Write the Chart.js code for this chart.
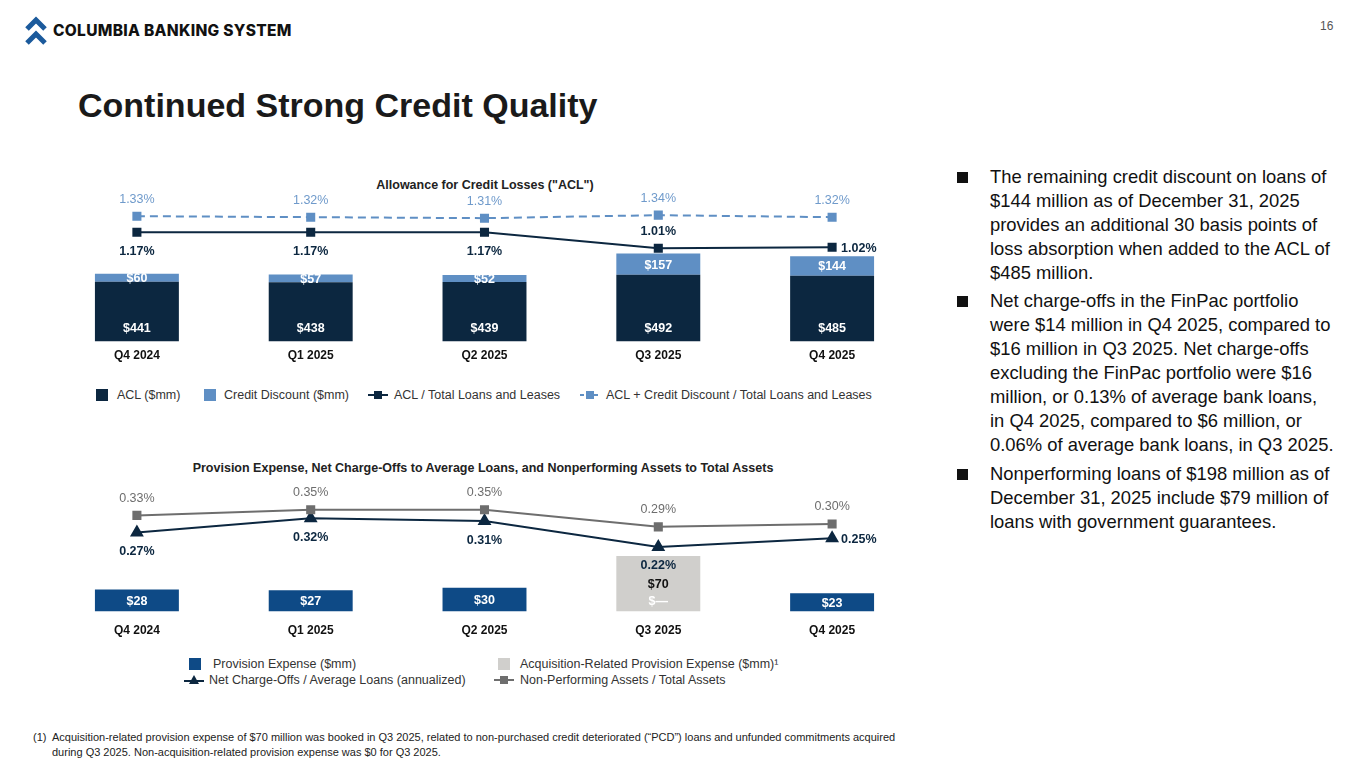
<!DOCTYPE html>
<html>
<head>
<meta charset="utf-8">
<script src="https://cdn.jsdelivr.net/npm/chart.js@4.4.0/dist/chart.umd.min.js"></script>
<style>
  body { margin: 0; width: 1365px; height: 768px; position: relative; background: #fff;
         font-family: "Liberation Sans", Arial, sans-serif; overflow: hidden; color: #1a1a1a; }
  .abs { position: absolute; white-space: nowrap; }
  .logo-text { left: 53px; top: 21px; font-family: Inter, sans-serif; font-weight: 800; font-size: 15.5px; letter-spacing: 0.3px; color: #111; }
  .page { left: 1320px; top: 19px; font-size: 12px; color: #555; }
  .title { left: 78px; top: 86px; font-size: 34px; font-weight: bold; color: #1a1a1a; }
  .ctitle { font-size: 12.5px; font-weight: bold; color: #222; transform: translateX(-50%); }
  .leg { font-size: 12.5px; color: #333; line-height: 14px; }
  .leg svg { position: absolute; }
  .bul { left: 957px; width: 11px; height: 11px; background: #111; }
  .para { left: 990px; font-size: 18.4px; line-height: 24px; color: #111; }
  .foot { font-size: 11px; color: #222; line-height: 15px; }
  #c1wrap { position: absolute; left: 50px; top: 170px; width: 869px; height: 200px; }
  #c2wrap { position: absolute; left: 50px; top: 480px; width: 869px; height: 170px; }
</style>
</head>
<body>
<svg class="abs" style="left:23px;top:14px" width="26" height="34" viewBox="0 0 26 34">
  <polyline points="4,15 13,6 22,15" fill="none" stroke="#1b5a9c" stroke-width="5" stroke-linejoin="miter"/>
  <polyline points="4,29 13,20 22,29" fill="none" stroke="#1b5a9c" stroke-width="5" stroke-linejoin="miter"/>
</svg>
<div class="abs logo-text">COLUMBIA BANKING SYSTEM</div>
<div class="abs page">16</div>
<div class="abs title">Continued Strong Credit Quality</div>

<div class="abs ctitle" style="left:485px;top:178px">Allowance for Credit Losses ("ACL")</div>
<div id="c1wrap"><canvas id="acl"></canvas></div>

<div class="abs leg" style="left:96px;top:388px">
  <svg style="left:0;top:1px" width="12" height="12"><rect width="12" height="12" fill="#0c2740"/></svg>
  <span style="position:absolute;left:21px">ACL ($mm)</span>
</div>
<div class="abs leg" style="left:204px;top:388px">
  <svg style="left:0;top:1px" width="12" height="12"><rect width="12" height="12" fill="#5f8fc4"/></svg>
  <span style="position:absolute;left:20px">Credit Discount ($mm)</span>
</div>
<div class="abs leg" style="left:368px;top:388px">
  <svg style="left:0;top:2px" width="20" height="10"><line x1="0" y1="5" x2="20" y2="5" stroke="#0c2740" stroke-width="2"/><rect x="6" y="1" width="8" height="8" fill="#0c2740"/></svg>
  <span style="position:absolute;left:26px">ACL / Total Loans and Leases</span>
</div>
<div class="abs leg" style="left:580px;top:388px">
  <svg style="left:0;top:2px" width="20" height="10"><line x1="0" y1="5" x2="20" y2="5" stroke="#5f8fc4" stroke-width="2" stroke-dasharray="4,3"/><rect x="6" y="1" width="8" height="8" fill="#5f8fc4"/></svg>
  <span style="position:absolute;left:26px">ACL + Credit Discount / Total Loans and Leases</span>
</div>

<div class="abs ctitle" style="left:483px;top:461px">Provision Expense, Net Charge-Offs to Average Loans, and Nonperforming Assets to Total Assets</div>
<div id="c2wrap"><canvas id="prov"></canvas></div>

<div class="abs leg" style="left:189px;top:657px">
  <svg style="left:0;top:1px" width="12" height="12"><rect width="12" height="12" fill="#0e4a86"/></svg>
  <span style="position:absolute;left:24px">Provision Expense ($mm)</span>
</div>
<div class="abs leg" style="left:498px;top:657px">
  <svg style="left:0;top:1px" width="12" height="12"><rect width="12" height="12" fill="#d0cfcc"/></svg>
  <span style="position:absolute;left:22px">Acquisition-Related Provision Expense ($mm)¹</span>
</div>
<div class="abs leg" style="left:184px;top:673px">
  <svg style="left:0;top:2px" width="20" height="10"><line x1="0" y1="6" x2="20" y2="6" stroke="#0c2740" stroke-width="2"/><polygon points="10,0 15,9 5,9" fill="#0c2740"/></svg>
  <span style="position:absolute;left:25px">Net Charge-Offs / Average Loans (annualized)</span>
</div>
<div class="abs leg" style="left:494px;top:673px">
  <svg style="left:0;top:2px" width="20" height="10"><line x1="0" y1="5" x2="20" y2="5" stroke="#6e6e6e" stroke-width="2"/><rect x="6" y="1" width="8" height="8" fill="#6e6e6e"/></svg>
  <span style="position:absolute;left:26px">Non-Performing Assets / Total Assets</span>
</div>

<div class="abs bul" style="top:172px"></div>
<div class="abs para" style="top:165px">The remaining credit discount on loans of<br>$144 million as of December 31, 2025<br>provides an additional 30 basis points of<br>loss absorption when added to the ACL of<br>$485 million.</div>
<div class="abs bul" style="top:296px"></div>
<div class="abs para" style="top:289px">Net charge-offs in the FinPac portfolio<br>were $14 million in Q4 2025, compared to<br>$16 million in Q3 2025. Net charge-offs<br>excluding the FinPac portfolio were $16<br>million, or 0.13% of average bank loans,<br>in Q4 2025, compared to $6 million, or<br>0.06% of average bank loans, in Q3 2025.</div>
<div class="abs bul" style="top:469px"></div>
<div class="abs para" style="top:462px">Nonperforming loans of $198 million as of<br>December 31, 2025 include $79 million of<br>loans with government guarantees.</div>

<div class="abs foot" style="left:33px;top:730px">(1)</div>
<div class="abs foot" style="left:52px;top:730px">Acquisition-related provision expense of $70 million was booked in Q3 2025, related to non-purchased credit deteriorated (“PCD”) loans and unfunded commitments acquired<br>during Q3 2025. Non-acquisition-related provision expense was $0 for Q3 2025.</div>

<script>
const quarters = ['Q4 2024', 'Q1 2025', 'Q2 2025', 'Q3 2025', 'Q4 2025'];

// top chart
const aclValues = [441, 438, 439, 492, 485];
const creditDiscount = [60, 57, 52, 157, 144];
const aclRatio = [1.17, 1.17, 1.17, 1.01, 1.02];
const aclDiscountRatio = [1.33, 1.32, 1.31, 1.34, 1.32];

// bottom chart
const provisionExpense = [28, 27, 30, 0, 23];
const acquisitionProvision = [null, null, null, 70, null];
const ncoRatio = [0.27, 0.32, 0.31, 0.22, 0.25];
const npaRatio = [0.33, 0.35, 0.35, 0.29, 0.30];

const NAVY = '#0c2740';
const LIGHT = '#5f8fc4';
const BLUE = '#0e4a86';
const GREY = '#d0cfcc';
const DGREY = '#6e6e6e';
const FONT = '"Liberation Sans", Arial, sans-serif';

Chart.defaults.font.family = FONT;

// draws the value labels (no datalabels plugin available offline)
const valueLabels = {
  id: 'valueLabels',
  afterDatasetsDraw(chart) {
    const ctx = chart.ctx;
    chart.data.datasets.forEach((ds, i) => {
      const lab = ds.lab;
      if (!lab) return;
      const meta = chart.getDatasetMeta(i);
      meta.data.forEach((el, j) => {
        const v = ds.data[j];
        if (v === null || v === undefined) return;
        let text = lab.fmt === '%' ? v.toFixed(2) + '%' : (v === 0 ? '$—' : '$' + v);
        let x = el.x, y;
        ctx.save();
        ctx.font = (lab.bold ? 'bold ' : '') + '12.5px ' + FONT;
        ctx.fillStyle = lab.color;
        ctx.textAlign = 'center';
        ctx.textBaseline = 'middle';
        const pos = Array.isArray(lab.pos) ? lab.pos[j] : lab.pos;
        if (pos === 'base') y = el.base - 13;
        else if (pos === 'center') y = v === 0 ? el.base - 10 : (el.y + el.base) / 2 + 1;
        else if (pos === 'above') y = el.y - 17;
        else if (pos === 'below') y = el.y + 19;
        else if (pos === 'right') { x = el.x + 9; y = el.y + 1; ctx.textAlign = 'left'; }
        ctx.fillText(text, x, y);
        ctx.restore();
      });
    });
  }
};

const xAxis = (pad) => ({
  stacked: true,
  grid: { display: false, drawTicks: false },
  border: { display: false },
  ticks: { color: '#111', font: { size: 12, weight: 'bold' }, padding: pad }
});

new Chart(document.getElementById('acl'), {
  type: 'bar',
  data: {
    labels: quarters,
    datasets: [
      { type: 'line', label: 'ACL + Credit Discount / Total Loans and Leases', data: aclDiscountRatio, yAxisID: 'y1',
        borderColor: LIGHT, backgroundColor: LIGHT, borderWidth: 2, borderDash: [8, 5],
        pointStyle: 'rect', pointRadius: 5, order: 0,
        lab: { fmt: '%', color: '#6f9acb', bold: false, pos: 'above' } },
      { type: 'line', label: 'ACL / Total Loans and Leases', data: aclRatio, yAxisID: 'y1',
        borderColor: NAVY, backgroundColor: NAVY, borderWidth: 2,
        pointStyle: 'rect', pointRadius: 5, order: 0,
        lab: { fmt: '%', color: NAVY, bold: true, pos: ['below', 'below', 'below', 'above', 'right'] } },
      { label: 'ACL ($mm)', data: aclValues, backgroundColor: NAVY, order: 1,
        barPercentage: 1, categoryPercentage: 0.483,
        lab: { fmt: '$', color: '#fff', bold: true, pos: 'base' } },
      { label: 'Credit Discount ($mm)', data: creditDiscount, backgroundColor: LIGHT, order: 1,
        barPercentage: 1, categoryPercentage: 0.483,
        lab: { fmt: '$', color: '#fff', bold: true, pos: 'center' } }
    ]
  },
  options: {
    responsive: true, maintainAspectRatio: false, animation: false,
    layout: { padding: 0, autoPadding: false },
    plugins: { legend: { display: false }, tooltip: { enabled: false } },
    scales: {
      x: xAxis(7),
      y: { display: false, stacked: true, min: 0, max: 1265 },
      y1: { display: false, stacked: false, min: 0.08, max: 1.79 }
    }
  },
  plugins: [valueLabels]
});

new Chart(document.getElementById('prov'), {
  type: 'bar',
  data: {
    labels: quarters,
    datasets: [
      { type: 'line', label: 'Non-Performing Assets / Total Assets', data: npaRatio, yAxisID: 'y1',
        borderColor: DGREY, backgroundColor: DGREY, borderWidth: 2,
        pointStyle: 'rect', pointRadius: 5, order: 0,
        lab: { fmt: '%', color: DGREY, bold: false, pos: 'above' } },
      { type: 'line', label: 'Net Charge-Offs / Average Loans (annualized)', data: ncoRatio, yAxisID: 'y1',
        borderColor: NAVY, backgroundColor: NAVY, borderWidth: 2,
        pointStyle: 'triangle', pointRadius: 6, order: 0,
        lab: { fmt: '%', color: NAVY, bold: true, pos: ['below', 'below', 'below', 'below', 'right'] } },
      { label: 'Provision Expense ($mm)', data: provisionExpense, backgroundColor: BLUE, order: 1,
        barPercentage: 1, categoryPercentage: 0.483,
        lab: { fmt: '$', color: '#fff', bold: true, pos: 'center' } },
      { label: 'Acquisition-Related Provision Expense ($mm)', data: acquisitionProvision, backgroundColor: GREY, order: 1,
        barPercentage: 1, categoryPercentage: 0.483,
        lab: { fmt: '$', color: '#111', bold: true, pos: 'center' } }
    ]
  },
  options: {
    responsive: true, maintainAspectRatio: false, animation: false,
    layout: { padding: 0, autoPadding: false },
    plugins: { legend: { display: false }, tooltip: { enabled: false } },
    scales: {
      x: xAxis(12),
      y: { display: false, stacked: true, min: 0, max: 166 },
      y1: { display: false, stacked: false, min: -0.006, max: 0.4536 }
    }
  },
  plugins: [valueLabels]
});
</script>
</body>
</html>
